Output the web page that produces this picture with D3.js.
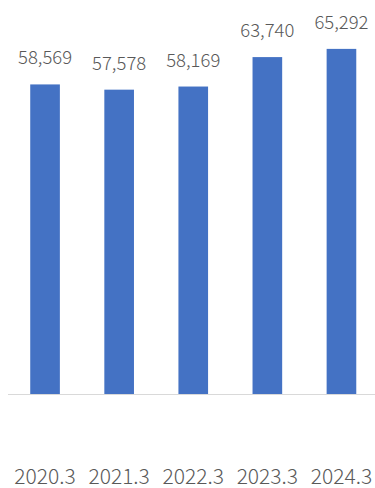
<!DOCTYPE html>
<html>
<head>
<meta charset="utf-8">
<script src="https://cdn.jsdelivr.net/npm/d3@7"></script>
<style>
  html, body { margin: 0; padding: 0; background: #ffffff; }
  svg { display: block; }
  text { font-family: "Noto Sans CJK JP", "Noto Sans", sans-serif; font-weight: 300; fill: #595959; }
</style>
</head>
<body>
<svg id="chart" width="375" height="488"></svg>
<script>
// Fiscal years (ending March) and annual figures
const categories = ["2020.3", "2021.3", "2022.3", "2023.3", "2024.3"];
const values = [58569, 57578, 58169, 63740, 65292];

const width = 375, height = 488;
const baseY = 394, topY = 24;

const svg = d3.select("#chart");

const x = d3.scaleBand()
  .domain(categories)
  .range([8, 378.5])
  .paddingInner(0.6)
  .paddingOuter(0.3);

const y = d3.scaleLinear()
  .domain([0, 70000])
  .range([baseY, topY]);

// Bars
svg.append("g")
  .selectAll("rect")
  .data(values)
  .join("rect")
  .attr("x", (d, i) => x(categories[i]))
  .attr("y", d => y(d))
  .attr("width", x.bandwidth())
  .attr("height", d => baseY - y(d))
  .attr("fill", "#4472c4");

// Baseline
svg.append("line")
  .attr("x1", 8).attr("x2", 375)
  .attr("y1", baseY + 0.5).attr("y2", baseY + 0.5)
  .attr("stroke", "#d9d9d9")
  .attr("stroke-width", 1);

// Value labels above bars
svg.append("g")
  .selectAll("text")
  .data(values)
  .join("text")
  .attr("x", (d, i) => x(categories[i]) + x.bandwidth() / 2)
  .attr("y", d => y(d) - 20)
  .attr("text-anchor", "middle")
  .attr("font-size", 18.5)
  .text(d => d3.format(",")(d));

// Category axis labels
const xAxis = d3.axisBottom(x).tickSize(0).tickPadding(0);
const gx = svg.append("g")
  .attr("transform", `translate(0,${baseY})`)
  .call(xAxis);
gx.select(".domain").remove();
gx.selectAll("text")
  .attr("dy", null)
  .attr("y", 89.5)
  .attr("font-size", 21)
  .attr("font-family", "\"Noto Sans CJK JP\", \"Noto Sans\", sans-serif")
  .attr("font-weight", 300)
  .attr("fill", "#595959");
</script>
</body>
</html>
